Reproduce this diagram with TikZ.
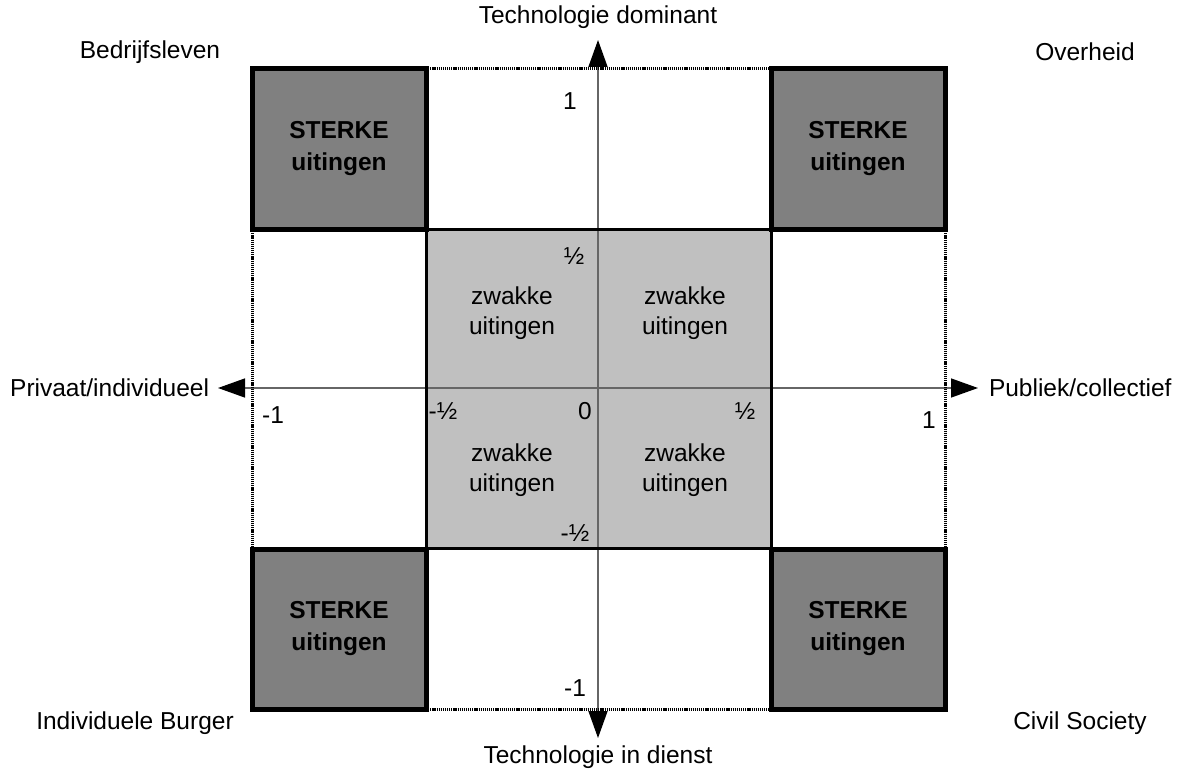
\documentclass[tikz,border=0pt]{standalone}
\usepackage{fontspec}
\setmainfont{Liberation Sans}
\usetikzlibrary{arrows.meta}
\definecolor{darkbox}{HTML}{808080}
\definecolor{lightbox}{HTML}{C0C0C0}
\definecolor{axisgray}{HTML}{666666}
\begin{document}
\begin{tikzpicture}[x=1pt,y=-1pt,
  every node/.style={font=\fontsize{24.5}{30}\selectfont, inner sep=0pt, outer sep=0pt},
  sterk/.style={draw=black, fill=darkbox, line width=5pt, minimum width=174pt, minimum height=160pt, align=center, font=\fontsize{24.5}{32}\selectfont\bfseries},
  midbox/.style={draw=black, fill=lightbox, line width=3pt, minimum width=345pt, minimum height=319pt},
  zwak/.style={align=center},
  dotline/.style={line width=3pt, dash pattern=on 1.2pt off 0.9pt, black},
  axisline/.style={line width=1.4pt, axisgray},
  tip/.style={-{Triangle[length=27pt,width=19pt,color=black]}},
  lbl/.style={},
  num/.style={}
]
\useasboundingbox (0,0) rectangle (1178,773);
% centre grey box
\node[midbox] (mid) at (598.5,388.5) {};
% axes
\coordinate (ytop) at (598,40);
\coordinate (ybot) at (598,738);
\coordinate (xleft) at (218,388);
\coordinate (xright) at (978,388);
\coordinate (o) at (598,388);
\draw[axisline,tip] (o) -- (ytop);
\draw[axisline,tip] (o) -- (ybot);
\draw[axisline,tip] (o) -- (xleft);
\draw[axisline,tip] (o) -- (xright);
% centre box border on top of axes
\node[midbox, fill=none] (midb) at (598.5,388.5) {};
% strong corner boxes
\node[sterk] (tl) at (339,149) {STERKE\\uitingen};
\node[sterk] (tr) at (858,149) {STERKE\\uitingen};
\node[sterk] (bl) at (339,629) {STERKE\\uitingen};
\node[sterk] (br) at (858,629) {STERKE\\uitingen};
% dotted edges
\draw[dotline] (tl.north east) -- (tr.north west);
\draw[dotline] (bl.south east) -- (br.south west);
\draw[dotline] (tl.south west) -- (bl.north west);
\draw[dotline] (tr.south east) -- (br.north east);
% weak labels
\node[zwak] (z1) at (512,313) {zwakke\\uitingen};
\node[zwak] (z2) at (685,313) {zwakke\\uitingen};
\node[zwak] (z3) at (512,470) {zwakke\\uitingen};
\node[zwak] (z4) at (685,470) {zwakke\\uitingen};
% axis labels
\node[lbl] (top) at (598,17) {Technologie dominant};
\node[lbl] (bot) at (598,757) {Technologie in dienst};
\node[lbl, anchor=east] (left) at (209,388) {Privaat/individueel};
\node[lbl, anchor=west] (right) at (989,388) {Publiek/collectief};
% corner labels
\node[lbl] (c1) at (150,52) {Bedrijfsleven};
\node[lbl] (c2) at (1085,52) {Overheid};
\node[lbl] (c3) at (135,723) {Individuele Burger};
\node[lbl] (c4) at (1080,723) {Civil Society};
% numbers
\node[num] (n1) at (570,101) {1};
\node[num] (n2) at (574,256) {½};
\node[num] (n3) at (273,415) {-1};
\node[num] (n4) at (443,411) {-½};
\node[num] (n5) at (585,411) {0};
\node[num] (n6) at (745,411) {½};
\node[num] (n7) at (929,420) {1};
\node[num] (n8) at (575,533) {-½};
\node[num] (n9) at (575,688) {-1};
\end{tikzpicture}
\end{document}
